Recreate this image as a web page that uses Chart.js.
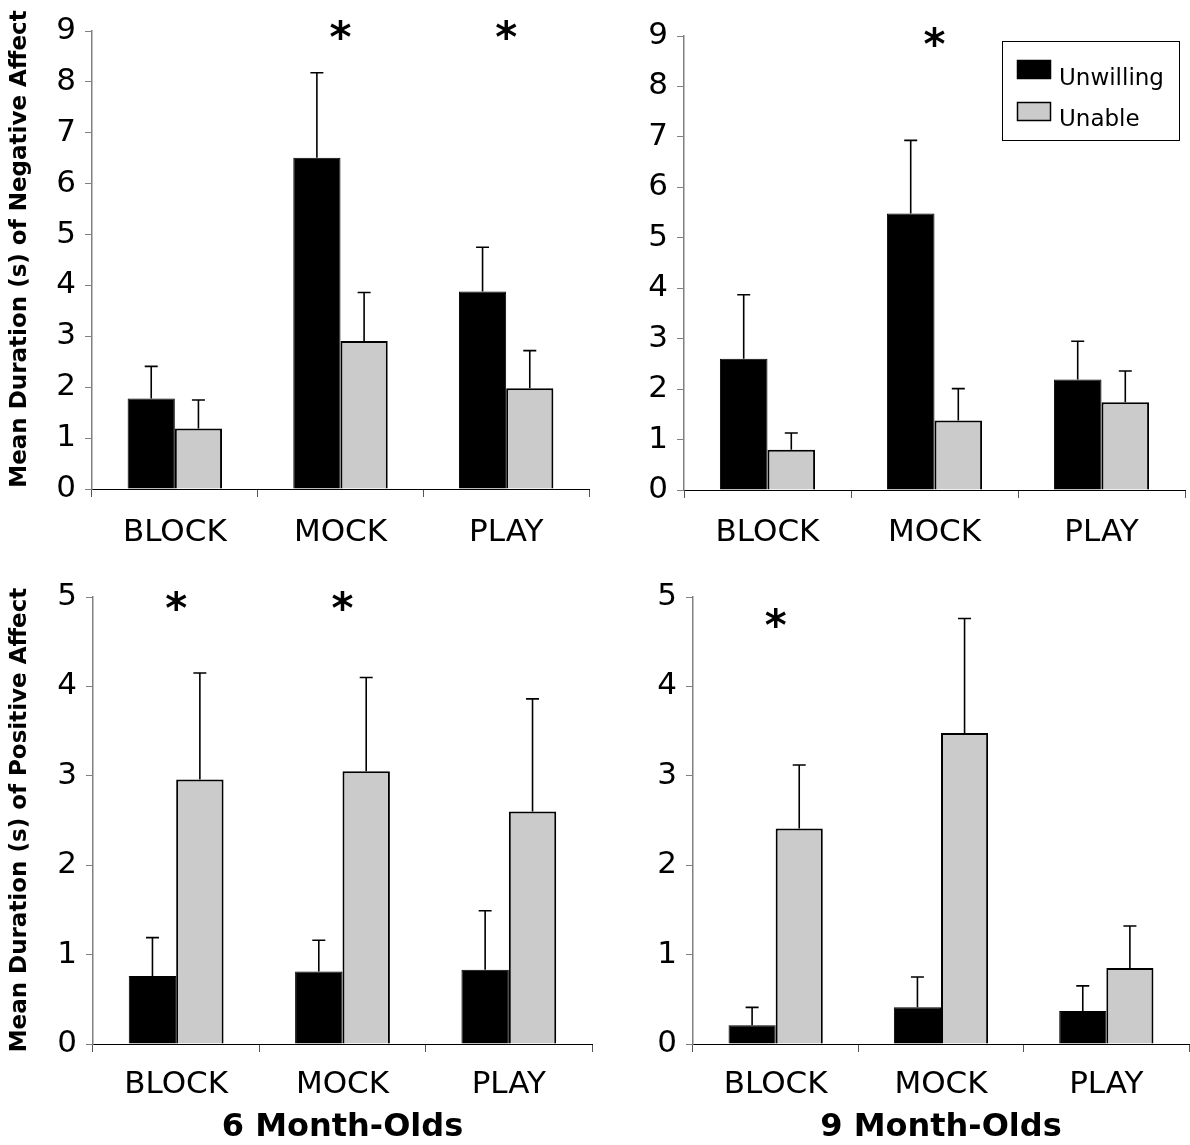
<!DOCTYPE html>
<html>
<head>
<meta charset="utf-8">
<script src="https://cdn.jsdelivr.net/npm/chart.js@4.4.1/dist/chart.umd.min.js"></script>
<style>
  body { margin: 0; background: #fff; }
  #page { position: relative; width: 1190px; height: 1145px; overflow: hidden; }
  .panel { position: absolute; width: 595px; }
  .top { top: 0; height: 560px; }
  .bottom { top: 560px; height: 585px; }
</style>
</head>
<body>
<div id="page">
  <div class="panel top" style="left:0"><canvas id="neg6"></canvas></div>
  <div class="panel top" style="left:595px"><canvas id="neg9"></canvas></div>
  <div class="panel bottom" style="left:0"><canvas id="pos6"></canvas></div>
  <div class="panel bottom" style="left:595px"><canvas id="pos9"></canvas></div>
</div>
<script>
const conditions = ['BLOCK', 'MOCK', 'PLAY'];
const seriesNames = ['Unwilling', 'Unable'];

// negative affect (top row)
const neg6Unwilling = [1.78, 6.51, 3.88];
const neg6UnwillingErr = [0.63, 1.67, 0.87];
const neg6Unable = [1.19, 2.91, 1.98];
const neg6UnableErr = [0.56, 0.95, 0.74];
const neg6Sig = [false, true, true];

const neg9Unwilling = [2.60, 5.48, 2.19];
const neg9UnwillingErr = [1.27, 1.45, 0.76];
const neg9Unable = [0.80, 1.38, 1.74];
const neg9UnableErr = [0.33, 0.63, 0.62];
const neg9Sig = [false, true, false];

// positive affect (bottom row)
const pos6Unwilling = [0.76, 0.81, 0.83];
const pos6UnwillingErr = [0.43, 0.35, 0.66];
const pos6Unable = [2.96, 3.05, 2.60];
const pos6UnableErr = [1.19, 1.05, 1.26];
const pos6Sig = [true, true, false];

const pos9Unwilling = [0.21, 0.41, 0.37];
const pos9UnwillingErr = [0.20, 0.34, 0.28];
const pos9Unable = [2.41, 3.48, 0.85];
const pos9UnableErr = [0.71, 1.28, 0.47];
const pos9Sig = [true, false, false];

const negTicks = [0, 1, 2, 3, 4, 5, 6, 7, 8, 9];
const posTicks = [0, 1, 2, 3, 4, 5];

const negTitle = 'Mean Duration (s) of Negative Affect';
const posTitle = 'Mean Duration (s) of Positive Affect';
const ageTitles = ['6 Month-Olds', '9 Month-Olds'];

const FONT = "'DejaVu Sans', Verdana, sans-serif";
Chart.defaults.font.family = FONT;
Chart.defaults.color = '#000';

// vertical error bars with a cap, drawn above each bar
const errorBarPlugin = {
    id: 'errorBars',
    afterDatasetsDraw(chart) {
        const ctx = chart.ctx;
        const yScale = chart.scales.y;
        ctx.save();
        ctx.strokeStyle = '#000';
        ctx.lineWidth = 1.6;
        chart.data.datasets.forEach((ds, i) => {
            const meta = chart.getDatasetMeta(i);
            meta.data.forEach((bar, j) => {
                const top = yScale.getPixelForValue(ds.data[j] + ds.errors[j]);
                ctx.beginPath();
                ctx.moveTo(bar.x, bar.y);
                ctx.lineTo(bar.x, top);
                ctx.moveTo(bar.x - 6.5, top);
                ctx.lineTo(bar.x + 6.5, top);
                ctx.stroke();
            });
        });
        ctx.restore();
    }
};

// asterisks over significant conditions
const starPlugin = {
    id: 'stars',
    afterDraw(chart, args, opts) {
        const ctx = chart.ctx;
        const size = 42;
        ctx.save();
        ctx.font = 'bold ' + size + 'px ' + FONT;
        ctx.textAlign = 'center';
        ctx.textBaseline = 'alphabetic';
        ctx.fillStyle = '#000';
        opts.sig.forEach((s, j) => {
            if (!s) return;
            const x = chart.scales.x.getPixelForValue(j);
            const y = chart.scales.y.getPixelForValue(opts.level);
            ctx.fillText('*', x, y + size * 0.46);
        });
        ctx.restore();
    }
};

// rotated y title, placed by hand (not centred on the axis in the original)
const sideTitlePlugin = {
    id: 'sideTitle',
    afterDraw(chart, args, opts) {
        if (!opts.text) return;
        const ctx = chart.ctx;
        ctx.save();
        ctx.translate(opts.x, opts.y);
        ctx.rotate(-Math.PI / 2);
        ctx.font = 'bold 23px ' + FONT;
        ctx.textAlign = 'center';
        ctx.textBaseline = 'middle';
        ctx.fillStyle = '#000';
        ctx.fillText(opts.text, 0, 0);
        ctx.restore();
    }
};

// boxed legend in the upper right panel
const boxLegendPlugin = {
    id: 'boxLegend',
    afterDraw(chart, args, opts) {
        if (!opts.show) return;
        const ctx = chart.ctx;
        const x0 = opts.x, y0 = opts.y;
        ctx.save();
        ctx.strokeStyle = '#000';
        ctx.lineWidth = 1;
        ctx.strokeRect(x0 + 0.5, y0 + 0.5, 177, 99);
        ctx.font = '23px ' + FONT;
        ctx.textBaseline = 'alphabetic';
        chart.data.datasets.forEach((ds, i) => {
            const sy = y0 + 19 + i * 42;
            ctx.fillStyle = ds.backgroundColor;
            ctx.fillRect(x0 + 15, sy, 34, 19);
            ctx.lineWidth = 1.5;
            ctx.strokeStyle = '#000';
            ctx.strokeRect(x0 + 15.5, sy + 0.5, 33, 18);
            ctx.fillStyle = '#000';
            ctx.fillText(ds.label, x0 + 57, sy + 25 - i * 1);
        });
        ctx.restore();
    }
};

function makePanel(id, unwilling, unwillingErr, unable, unableErr, sig, ticks, cfg) {
    new Chart(document.getElementById(id), {
        type: 'bar',
        data: {
            labels: conditions,
            datasets: [
                { label: seriesNames[0], data: unwilling, errors: unwillingErr,
                  backgroundColor: '#000000', borderColor: '#000000', borderWidth: 1 },
                { label: seriesNames[1], data: unable, errors: unableErr,
                  backgroundColor: '#cbcbcb', borderColor: '#000000', borderWidth: 2 }
            ]
        },
        options: {
            responsive: true,
            maintainAspectRatio: false,
            animation: false,
            layout: { padding: { top: cfg.top, right: cfg.right, left: 0, bottom: 0 } },
            datasets: { bar: { categoryPercentage: 0.57, barPercentage: 1.0 } },
            scales: {
                x: {
                    grid: { drawOnChartArea: false, tickLength: 8, color: '#555', offset: true },
                    border: { color: '#000', width: 1 },
                    ticks: { font: { size: 31 }, padding: cfg.labelPad, color: '#000' },
                    title: { display: !!cfg.xTitle, text: cfg.xTitle || '',
                             font: { size: 32, weight: 'bold' }, color: '#000',
                             padding: { top: 0, bottom: -2 } },
                    afterFit(scale) { scale.height = cfg.xHeight; }
                },
                y: {
                    min: ticks[0],
                    max: ticks[ticks.length - 1],
                    grid: { drawOnChartArea: false, tickLength: 7, color: '#808080' },
                    border: { color: '#808080', width: 1.5 },
                    ticks: { stepSize: 1, font: { size: 31 }, padding: 9, color: '#000' },
                    afterFit(scale) { scale.width = cfg.yWidth; }
                }
            },
            plugins: {
                legend: { display: false },
                tooltip: { enabled: false },
                stars: { sig: sig, level: cfg.starAt },
                sideTitle: { text: cfg.yTitle, x: 20, y: cfg.titleY },
                boxLegend: { show: !!cfg.legend, x: 407, y: 41 }
            }
        },
        plugins: [errorBarPlugin, starPlugin, sideTitlePlugin, boxLegendPlugin]
    });
}

makePanel('neg6', neg6Unwilling, neg6UnwillingErr, neg6Unable, neg6UnableErr, neg6Sig, negTicks,
    { yWidth: 92, top: 31, right: 6, xHeight: 71, labelPad: 17, starAt: 8.96, yTitle: negTitle, titleY: 249 });
makePanel('neg9', neg9Unwilling, neg9UnwillingErr, neg9Unable, neg9UnableErr, neg9Sig, negTicks,
    { yWidth: 89, top: 36, right: 5, xHeight: 70, labelPad: 16, starAt: 8.92, legend: true });
makePanel('pos6', pos6Unwilling, pos6UnwillingErr, pos6Unable, pos6UnableErr, pos6Sig, posTicks,
    { yWidth: 93, top: 37, right: 3, xHeight: 101, labelPad: 14, starAt: 4.93, yTitle: posTitle, titleY: 260, xTitle: ageTitles[0] });
makePanel('pos9', pos9Unwilling, pos9UnwillingErr, pos9Unable, pos9UnableErr, pos9Sig, posTicks,
    { yWidth: 98, top: 37, right: 1, xHeight: 101, labelPad: 14, starAt: 4.73, xTitle: ageTitles[1] });
</script>
</body>
</html>
